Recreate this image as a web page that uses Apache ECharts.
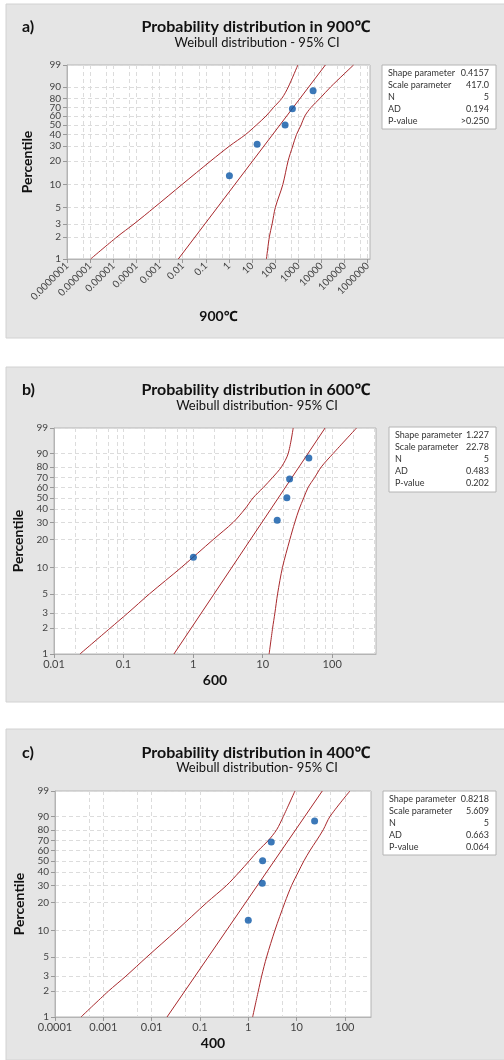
<!DOCTYPE html>
<html>
<head>
<meta charset="utf-8">
<title>Weibull probability plots</title>
<script src="https://cdn.jsdelivr.net/npm/echarts@6.0.0/dist/echarts.min.js"></script>
<style>
  html, body { margin: 0; padding: 0; background: #fff; }
  #chart { width: 504px; height: 1060px; }
</style>
</head>
<body>
<div id="chart"></div>
<script>
// percentile of each plotted point (median ranks, n = 5)
const pointPct = [12.96, 31.48, 50, 68.52, 87.04];
const bandPct = [1, 2, 3, 5, 10, 20, 30, 40, 50, 60, 70, 80, 90, 99];
const fitPct = [1, 99];
const yTicks = [1, 2, 3, 5, 10, 20, 30, 40, 50, 60, 70, 80, 90, 99];

const statNames = ["Shape parameter", "Scale parameter", "N", "AD", "P-value"];

// 900℃
const x900 = [1.05, 16.6, 269, 556, 4360];
const fit900 = [0.0065, 14800];
const lo900 = [1.05e-6, 1.45e-5, 7.9e-5, 6.0e-4, 0.0093, 0.166, 1.07, 5.2, 15.5, 40, 85, 195, 370, 955];
const hi900 = [42, 56, 74, 102, 214, 363, 575, 832, 1320, 1900, 3550, 8700, 25000, 245000];
const xTicks900 = ["0.0000001", "0.000001", "0.00001", "0.0001", "0.001", "0.01", "0.1", "1", "10", "100", "1000", "10000", "100000", "1000000"];
const minor900 = [5e-7, 5e-6, 5e-5, 5e-4, 5e-3, 0.05, 0.5, 5, 50, 500, 5000, 50000, 500000];
const stats900 = ["0.4157", "417.0", "5", "0.194", ">0.250"];

// 600℃
const x600 = [1.01, 16.2, 22.3, 24.4, 46.2];
const fit600 = [0.53, 79];
const lo600 = [0.0236, 0.064, 0.115, 0.236, 0.68, 1.94, 3.77, 5.55, 7.3, 10.2, 13.9, 18.7, 23.3, 27.5];
const hi600 = [12.4, 13.9, 15, 16.4, 19.3, 24.6, 29, 33.5, 39, 45, 56, 70, 103, 224];
const xTicks600 = ["0.01", "0.1", "1", "10", "100"];
const minor600 = [0.02, 0.04, 0.06, 0.08, 0.2, 0.4, 0.6, 0.8, 2, 4, 6, 8, 20, 40, 60, 80, 200, 400];
const stats600 = ["1.227", "22.78", "5", "0.483", "0.202"];

// 400℃
const x400 = [1.0, 1.95, 1.98, 2.99, 23.6];
const fit400 = [0.0208, 34];
const lo400 = [3.45e-4, 1.27e-3, 2.94e-3, 8.0e-3, 0.033, 0.138, 0.357, 0.65, 1.05, 1.61, 2.6, 3.86, 5.3, 9.25];
const hi400 = [1.23, 1.61, 1.89, 2.4, 3.56, 5.7, 7.9, 10.8, 14.2, 18.9, 25.9, 35.6, 49, 127];
const xTicks400 = ["0.0001", "0.001", "0.01", "0.1", "1", "10", "100"];
const minor400 = [5e-4, 5e-3, 0.05, 0.5, 5, 50];
const stats400 = ["0.8218", "5.609", "5", "0.663", "0.064"];

const FONT = "Lato, 'Noto Sans', sans-serif";
const RED = "#a8282c";
const BLUE = "#0a56a6";

// weibull probability scale and log10 x scale
const yT = (p) => Math.log(-Math.log(1 - p / 100));
const lg = (v) => Math.log10(v);

const panels = [
  { tag: "a)", title: "Probability distribution in 900℃", sub: "Weibull distribution - 95% CI", xName: "900℃",
    pts: x900, fit: fit900, lo: lo900, hi: hi900, ticks: xTicks900, minor: minor900, stats: stats900,
    box: [0, 4, 504, 334], grid: [67, 65, 303, 194], xMax: 6.1, rotate: 45, nameGap: 50, yGap: 33,
    head: [27, 43], info: [382, 65, 114, 64] },
  { tag: "b)", title: "Probability distribution in 600℃", sub: "Weibull distribution- 95% CI", xName: "600",
    pts: x600, fit: fit600, lo: lo600, hi: hi600, ticks: xTicks600, minor: minor600, stats: stats600,
    box: [0, 367, 504, 335], grid: [54, 428, 322, 226], xMax: 2.63, rotate: 0, nameGap: 19, yGap: 20,
    head: [390, 406], info: [389, 427, 107, 65] },
  { tag: "c)", title: "Probability distribution in 400℃", sub: "Weibull distribution- 95% CI", xName: "400",
    pts: x400, fit: fit400, lo: lo400, hi: hi400, ticks: xTicks400, minor: minor400, stats: stats400,
    box: [0, 729, 504, 331], grid: [55, 791, 316, 226], xMax: 2.54, rotate: 0, nameGap: 19, yGap: 21,
    head: [753, 768], info: [383, 791, 113, 64] },
];

const chart = echarts.init(document.getElementById("chart"));

const grids = [], xAxes = [], yAxes = [], series = [], graphics = [];
const dash = { color: "#dcdcdc", width: 1, type: [4, 3] };

panels.forEach((pn, i) => {
  const tickVals = pn.ticks.map((s) => lg(parseFloat(s)));
  const tickLabel = (v) => {
    const k = tickVals.findIndex((t) => Math.abs(t - v) < 1e-6);
    return k < 0 ? "" : pn.ticks[k];
  };
  const [gl, gt, gw, gh] = pn.grid;
  grids.push({ left: gl, top: gt, width: gw, height: gh, show: true,
    backgroundColor: "#fff", borderColor: "#b4b4b4", borderWidth: 1 });

  // labelled decades
  xAxes.push({
    type: "value", gridIndex: i, min: tickVals[0], max: pn.xMax, position: "bottom",
    name: pn.xName, nameLocation: "middle", nameGap: pn.nameGap,
    nameTextStyle: { fontFamily: FONT, fontWeight: "bold", fontSize: 14, color: "#111" },
    axisLine: { show: true, onZero: false, lineStyle: { color: "#b4b4b4" } },
    axisTick: { show: true, length: 4, customValues: tickVals, lineStyle: { color: "#999" } },
    axisLabel: { customValues: tickVals, formatter: tickLabel, rotate: pn.rotate, margin: 5,
      fontFamily: FONT, fontSize: pn.rotate ? 10 : 11, color: "#444" },
    splitLine: { show: true, lineStyle: dash },
  });
  // minor grid lines only
  xAxes.push({
    type: "value", gridIndex: i, min: tickVals[0], max: pn.xMax, position: "top",
    axisLine: { show: false, onZero: false }, axisLabel: { show: false },
    axisTick: { show: false, customValues: pn.minor.map(lg) },
    splitLine: { show: true, lineStyle: dash },
  });

  const yVals = yTicks.map(yT);
  yAxes.push({
    type: "value", gridIndex: i, min: yT(yTicks[0]), max: yT(yTicks[yTicks.length - 1]),
    name: "Percentile", nameLocation: "middle", nameGap: pn.yGap,
    nameTextStyle: { fontFamily: FONT, fontWeight: "bold", fontSize: 14, color: "#111" },
    axisLine: { show: true, onZero: false, lineStyle: { color: "#b4b4b4" } },
    axisTick: { show: true, length: 4, customValues: yVals, lineStyle: { color: "#999" } },
    axisLabel: { customValues: yVals, margin: 6, fontFamily: FONT, fontSize: 10, color: "#444",
      formatter: (v) => String(Math.round(100 * (1 - Math.exp(-Math.exp(v))))) },
    splitLine: { show: true, lineStyle: dash },
  });

  const xa = i * 2;
  const band = (arr) => arr.map((x, k) => [lg(x), yT(bandPct[k])]);
  const lineBase = { type: "line", xAxisIndex: xa, yAxisIndex: i, showSymbol: false, silent: true,
    lineStyle: { color: RED, width: 1 }, z: 3 };
  series.push({ ...lineBase, smooth: 0.3, data: band(pn.lo) });
  series.push({ ...lineBase, smooth: 0.3, data: band(pn.hi) });
  series.push({ ...lineBase, data: pn.fit.map((x, k) => [lg(x), yT(fitPct[k])]) });
  series.push({ type: "scatter", xAxisIndex: xa, yAxisIndex: i, symbolSize: 7, z: 4,
    itemStyle: { color: BLUE }, data: pn.pts.map((x, k) => [lg(x), yT(pointPct[k])]) });

  // panel background
  const [bx, by, bw, bh] = pn.box;
  graphics.push({ type: "rect", z: -10, shape: { x: bx + 6, y: by, width: bw, height: bh },
    style: { fill: "#e5e5e5", stroke: "#d2d2d2", lineWidth: 1 } });
  graphics.push({ type: "text", z: 10, x: 22, y: pn.head[0], style: { text: pn.tag, fill: "#111",
    font: "bold 16px " + FONT, verticalAlign: "middle" } });
  graphics.push({ type: "text", z: 10, x: 256, y: pn.head[0], style: { text: pn.title, fill: "#111",
    font: "bold 16px " + FONT, align: "center", verticalAlign: "middle" } });
  graphics.push({ type: "text", z: 10, x: 257, y: pn.head[1], style: { text: pn.sub, fill: "#111",
    font: "13px " + FONT, align: "center", verticalAlign: "middle" } });

  // statistics box
  const [ix, iy, iw, ih] = pn.info;
  graphics.push({ type: "rect", z: 10, shape: { x: ix, y: iy, width: iw, height: ih },
    style: { fill: "#fff", stroke: "#b4b4b4", lineWidth: 1 } });
  statNames.forEach((nm, k) => {
    const ty = iy + 8.5 + k * 11.8;
    graphics.push({ type: "text", z: 11, x: ix + 6, y: ty, style: { text: nm, fill: "#333",
      font: "9px " + FONT, verticalAlign: "middle" } });
    graphics.push({ type: "text", z: 11, x: ix + iw - 7, y: ty, style: { text: pn.stats[k], fill: "#333",
      font: "9px " + FONT, align: "right", verticalAlign: "middle" } });
  });
});

chart.setOption({
  animation: false,
  grid: grids,
  xAxis: xAxes,
  yAxis: yAxes,
  series: series,
  graphic: { elements: graphics },
});
</script>
</body>
</html>
